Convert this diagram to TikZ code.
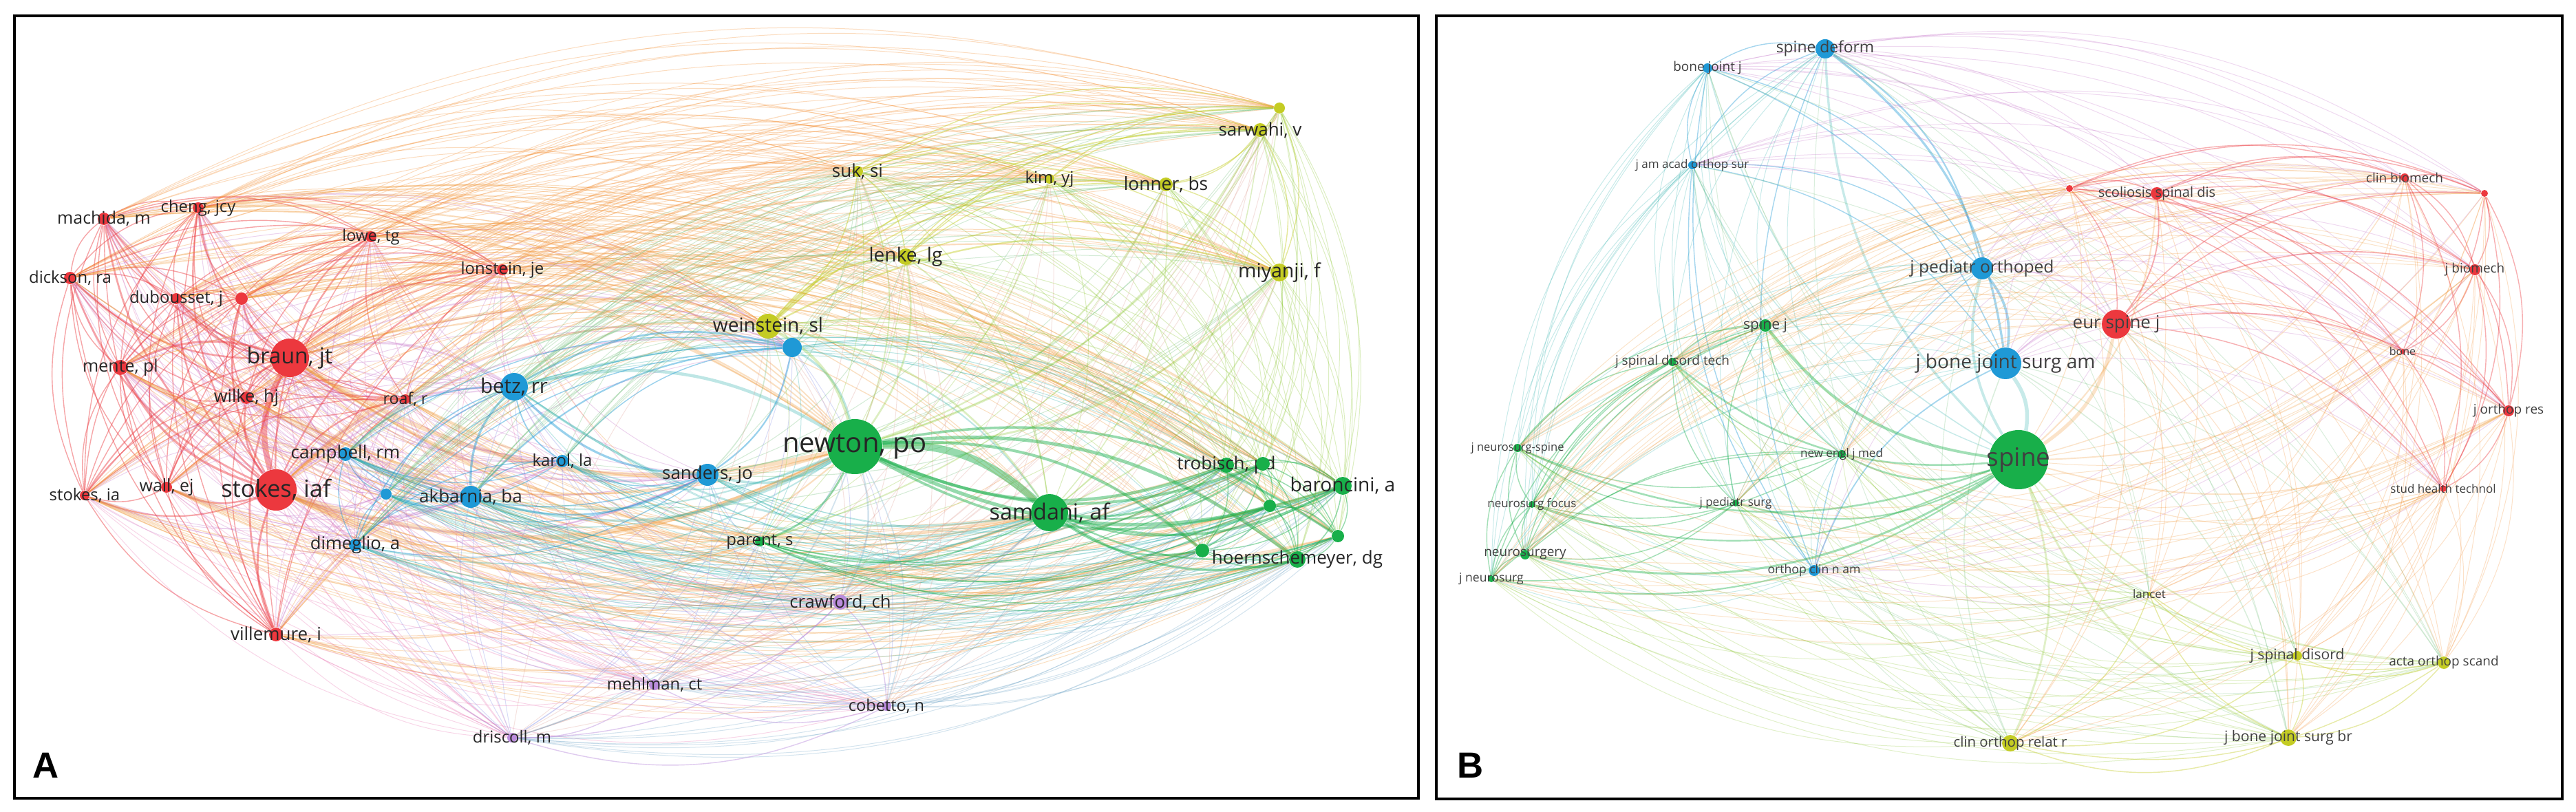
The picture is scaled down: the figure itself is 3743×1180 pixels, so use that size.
\documentclass[tikz,border=0pt]{standalone}
\usepackage{fontspec}
\setmainfont{Open Sans}
\newfontfamily\lettfont{Liberation Sans}
\pgfdeclarelayer{edges}
\pgfsetlayers{edges,main}
\definecolor{cR}{RGB}{236,56,62}
\definecolor{cB}{RGB}{31,153,214}
\definecolor{cG}{RGB}{24,175,74}
\definecolor{cY}{RGB}{196,204,36}
\definecolor{cP}{RGB}{186,140,220}
\newcommand\pairc[3]{\definecolor{x#1#2}{RGB}{#3}\definecolor{x#2#1}{RGB}{#3}}
\colorlet{xcRcR}{cR}\colorlet{xcBcB}{cB}\colorlet{xcGcG}{cG}\colorlet{xcYcY}{cY}\colorlet{xcPcP}{cP}
\pairc{cR}{cY}{245,140,45}
\pairc{cR}{cG}{240,150,50}
\pairc{cR}{cB}{195,110,200}
\pairc{cR}{cP}{235,120,180}
\pairc{cB}{cG}{40,175,170}
\pairc{cB}{cY}{110,190,120}
\pairc{cB}{cP}{130,140,230}
\pairc{cG}{cY}{140,200,50}
\pairc{cG}{cP}{110,165,200}
\pairc{cY}{cP}{225,160,150}
\newcommand\fs[1]{\fontsize{#1pt}{#1pt}\selectfont}
\tikzset{
  dot/.style={circle, inner sep=0pt, draw=none},
  lbl/.style={inner sep=0pt, text=black!85},
  panel/.style={draw=black, line width=1.2pt},
  letter/.style={inner sep=0pt, font=\lettfont\bfseries\fs{15}}
}
\newcommand\nd[7]{%
  \expandafter\xdef\csname X@#1\endcsname{#2}%
  \expandafter\xdef\csname Y@#1\endcsname{#3}%
  \expandafter\xdef\csname R@#1\endcsname{#4}%
  \expandafter\xdef\csname C@#1\endcsname{#5}%
  \node[dot, fill=#5, minimum size=#4*0.2mm] (#1) at (#2,#3) {};
  \node[lbl, font=\fs{#7}] (#1-l) at (#2,#3) {#6};
}
\newcommand\lnk[2]{%
  \edef\xa{\csname X@#1\endcsname}\edef\ya{\csname Y@#1\endcsname}%
  \edef\xb{\csname X@#2\endcsname}\edef\yb{\csname Y@#2\endcsname}%
  \edef\ra{\csname R@#1\endcsname}\edef\rb{\csname R@#2\endcsname}%
  \edef\ca{\csname C@#1\endcsname}\edef\cb{\csname C@#2\endcsname}%
  \pgfmathsetmacro\sgn{((\xa+\xb)/200-\cx/100)*((\yb-\ya)/100)-((\ya+\yb)/200-\cy/100)*((\xb-\xa)/100)}%
  \ifx\ca\cb \let\eop\eopin \pgfmathsetmacro\lw{max(1.4,\ra*\rb/100)*0.2845}%
  \else \let\eop\eopx \pgfmathsetmacro\lw{max(1.0,\ra*\rb/180)*0.2845}\fi
  \ifdim\sgn pt>0pt
    \draw[draw=x\ca\cb, line width=\lw pt, draw opacity=\eop] (#1) to[bend left=\bnd] (#2);
  \else
    \draw[draw=x\ca\cb, line width=\lw pt, draw opacity=\eop] (#1) to[bend right=\bnd] (#2);
  \fi
}
\def\bnd{22}
\begin{document}
\begin{tikzpicture}[x=0.1mm, y=-0.1mm]
\useasboundingbox (0,0) rectangle (3743,1180);
\begin{pgfonlayer}{edges}
\fill[white] (0,0) rectangle (3743,1180);
\end{pgfonlayer}
% ---------------- Panel A nodes ----------------
\nd{mac}{151}{318}{9}{cR}{machida, m}{7.1}
\nd{che}{288}{302}{8}{cR}{cheng, jcy}{6.8}
\nd{low}{539}{344}{8}{cR}{lowe, tg}{6.6}
\nd{lon}{730}{392}{8}{cR}{lonstein, je}{6.8}
\nd{dic}{102}{404}{9}{cR}{dickson, ra}{6.8}
\nd{dub}{256}{434}{8}{cR}{dubousset, j}{6.8}
\nd{rd1}{351}{434}{9}{cR}{}{6}
\nd{bra}{421}{520}{28}{cR}{braun, jt}{9.1}
\nd{men}{175}{534}{11}{cR}{mente, pl}{7.1}
\nd{wil}{358}{578}{9}{cR}{wilke, hj}{7.2}
\nd{roa}{589}{580}{7}{cR}{roaf, r}{6.6}
\nd{sto}{123}{720}{7}{cR}{stokes, ia}{6.8}
\nd{wal}{242}{708}{8}{cR}{wall, ej}{7.1}
\nd{sti}{401}{712}{30}{cR}{stokes, iaf}{9.8}
\nd{vil}{401}{922}{10}{cR}{villemure, i}{7.4}
\nd{bet}{747}{562}{20}{cB}{betz, rr}{8.4}
\nd{cam}{502}{660}{10}{cB}{campbell, rm}{7.4}
\nd{bl1}{561}{718}{8}{cB}{}{6}
\nd{akb}{684}{722}{16}{cB}{akbarnia, ba}{7.4}
\nd{kar}{817}{670}{9}{cB}{karol, la}{6.8}
\nd{san}{1028}{690}{16}{cB}{sanders, jo}{7.4}
\nd{dim}{516}{792}{9}{cB}{dimeglio, a}{7.3}
\nd{bl2}{1151}{505}{14}{cB}{}{6}
\nd{wei}{1116}{474}{18}{cY}{weinstein, sl}{8.0}
\nd{suk}{1246}{249}{8}{cY}{suk, si}{7.4}
\nd{kim}{1525}{260}{7}{cY}{kim, yj}{6.8}
\nd{lnr}{1694}{268}{10}{cY}{lonner, bs}{7.5}
\nd{ye1}{1859}{157}{8}{cY}{}{6}
\nd{sar}{1831}{189}{10}{cY}{sarwahi, v}{7.4}
\nd{len}{1316}{373}{12}{cY}{lenke, lg}{8.0}
\nd{miy}{1859}{396}{13}{cY}{miyanji, f}{8.1}
\nd{new}{1242}{649}{40}{cG}{newton, po}{11.4}
\nd{par}{1104}{787}{7}{cG}{parent, s}{6.8}
\nd{sam}{1525}{745}{27}{cG}{samdani, af}{9.2}
\nd{tro}{1782}{676}{11}{cG}{trobisch, pd}{7.4}
\nd{gr1}{1835}{674}{10}{cG}{}{6}
\nd{bar}{1951}{706}{13}{cG}{baroncini, a}{8.0}
\nd{gr2}{1845}{735}{9}{cG}{}{6}
\nd{gr3}{1944}{779}{9}{cG}{}{6}
\nd{gr4}{1747}{800}{10}{cG}{}{6}
\nd{hoe}{1885}{813}{12}{cG}{hoernschemeyer, dg}{7.4}
\nd{cra}{1221}{875}{11}{cP}{crawford, ch}{7.3}
\nd{meh}{951}{995}{8}{cP}{mehlman, ct}{6.8}
\nd{dri}{744}{1072}{7}{cP}{driscoll, m}{6.8}
\nd{cob}{1288}{1026}{7}{cP}{cobetto, n}{6.7}
\node[letter] (labA) at (67,1112) {A};
% ---------------- Panel B nodes ----------------
\tikzset{lbl/.append style={text=black!75}}
\nd{sde}{2652}{71}{14}{cB}{spine deform}{6.5}
\nd{bjj}{2481}{99}{7}{cB}{bone joint j}{5.4}
\nd{jaa}{2459}{240}{6}{cB}{j am acad orthop sur}{4.84}
\nd{jpo}{2880}{390}{16}{cB}{j pediatr orthoped}{7.0}
\nd{jba}{2914}{528}{23}{cB}{j bone joint surg am}{8.0}
\nd{ocn}{2636}{829}{8}{cB}{orthop clin n am}{5.0}
\nd{spi}{2933}{668}{43}{cG}{spine}{10.5}
\nd{spj}{2565}{473}{9}{cG}{spine j}{6.0}
\nd{jsd}{2430}{526}{6}{cG}{j spinal disord tech}{5.4}
\nd{jns}{2205}{651}{6}{cG}{j neurosurg-spine}{4.7}
\nd{nej}{2676}{660}{6}{cG}{new engl j med}{4.84}
\nd{nfo}{2226}{733}{5}{cG}{neurosurg focus}{4.84}
\nd{jps}{2522}{731}{5}{cG}{j pediatr surg}{4.84}
\nd{nsu}{2216}{806}{7}{cG}{neurosurgery}{5.4}
\nd{jne}{2167}{841}{5}{cG}{j neurosurg}{5.0}
\nd{rdb}{3007}{274}{5}{cR}{}{5}
\nd{ssd}{3134}{281}{9}{cR}{scoliosis spinal dis}{5.7}
\nd{clb}{3494}{258}{6}{cR}{clin biomech}{5.4}
\nd{rdc}{3610}{281}{5}{cR}{}{5}
\nd{jbi}{3596}{392}{8}{cR}{j biomech}{5.4}
\nd{eur}{3075}{471}{21}{cR}{eur spine j}{7.4}
\nd{bon}{3491}{511}{4}{cR}{bone}{4.55}
\nd{jor}{3645}{597}{8}{cR}{j orthop res}{5.4}
\nd{sht}{3550}{710}{5}{cR}{stud health technol}{4.84}
\nd{lan}{3123}{863}{3}{cY}{lancet}{4.84}
\nd{jsp}{3338}{953}{7}{cY}{j spinal disord}{6.0}
\nd{aos}{3551}{963}{9}{cY}{acta orthop scand}{5.4}
\nd{jbb}{3325}{1072}{12}{cY}{j bone joint surg br}{6.0}
\nd{cor}{2921}{1080}{12}{cY}{clin orthop relat r}{5.8}
\node[letter] (labB) at (2137,1112) {B};
% ---------------- edges ----------------
\def\listA{mac,che,low,lon,dic,dub,rd1,bra,men,wil,roa,sto,wal,sti,vil,bet,cam,bl1,akb,kar,san,dim,bl2,wei,suk,kim,lnr,ye1,sar,len,miy,new,par,sam,tro,gr1,bar,gr2,gr3,gr4,hoe,cra,meh,dri,cob}
\def\listB{sde,bjj,jaa,jpo,jba,ocn,spi,spj,jsd,jns,nej,nfo,jps,nsu,jne,rdb,ssd,clb,rdc,jbi,eur,bon,jor,sht,lan,jsp,aos,jbb,cor}
\begin{pgfonlayer}{edges}
\begin{scope}
\clip (21,23) rectangle (2061,1160);
\def\cx{1026}\def\cy{615}\def\eopin{0.45}\def\eopx{0.3}
\foreach \a [count=\i] in \listA {\foreach \b [count=\j] in \listA {\ifnum\j>\i\relax \lnk{\a}{\b}\fi}}
\end{scope}
\begin{scope}
\clip (2087,23) rectangle (3723,1161);
\def\cx{2920}\def\cy{590}\def\eopin{0.4}\def\eopx{0.26}
\foreach \a [count=\i] in \listB {\foreach \b [count=\j] in \listB {\ifnum\j>\i\relax \lnk{\a}{\b}\fi}}
\end{scope}
\end{pgfonlayer}
% ---------------- frames ----------------
\draw[panel] (21,23) rectangle (2061,1160);
\draw[panel] (2087,23) rectangle (3723,1161);
\end{tikzpicture}
\end{document}
